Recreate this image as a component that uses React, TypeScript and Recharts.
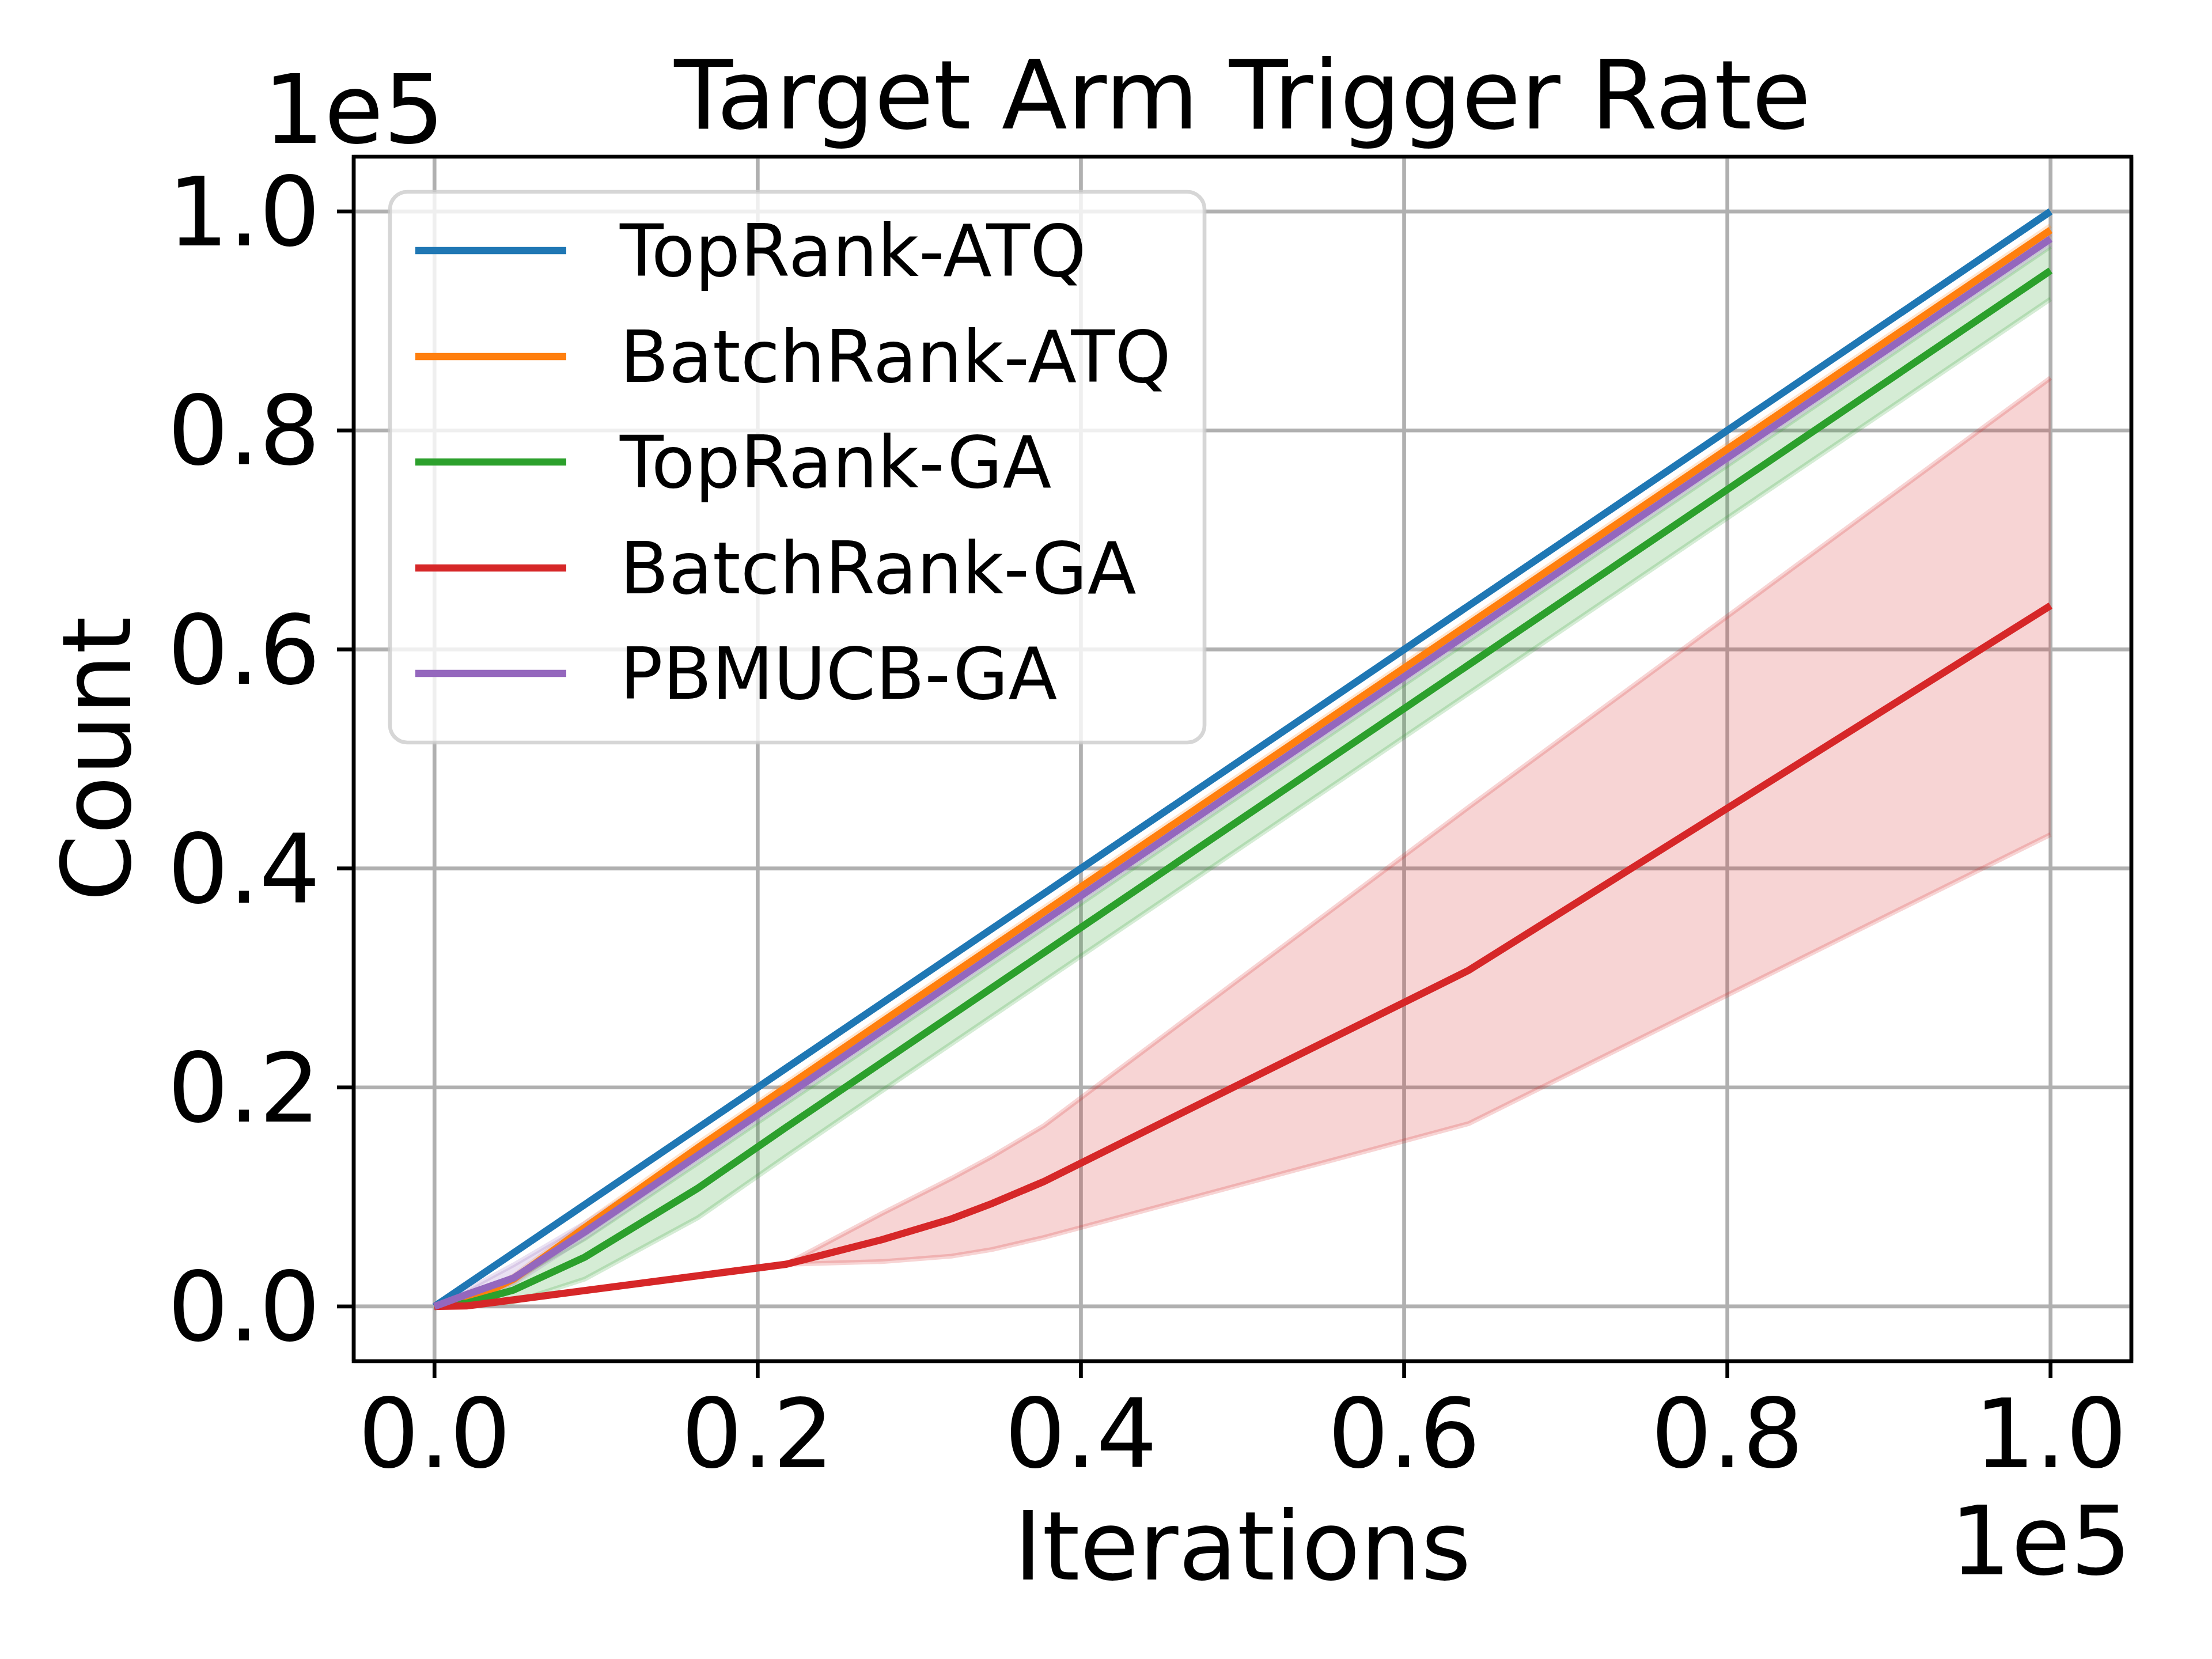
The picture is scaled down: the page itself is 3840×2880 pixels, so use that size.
import React from 'react';
import {
  ComposedChart,
  Line,
  Area,
  XAxis,
  YAxis,
  CartesianGrid,
  ReferenceArea,
  Customized,
} from 'recharts';

// x in units of 1e5 iterations
const iterations = [0, 0.02, 0.049, 0.093, 0.163, 0.2175, 0.277, 0.32, 0.345, 0.377, 0.64, 1.0];

// y in units of 1e5 counts
const topRankATQ = [0, 0.02, 0.049, 0.093, 0.163, 0.2175, 0.277, 0.32, 0.345, 0.377, 0.64, 1.0];

const batchRankATQ = [0, 0.004, 0.025, 0.072, 0.145, 0.2, 0.26, 0.303, 0.328, 0.36, 0.623, 0.983];
const batchRankATQLow = [0, 0.003, 0.022, 0.068, 0.141, 0.196, 0.256, 0.299, 0.324, 0.356, 0.619, 0.979];
const batchRankATQHigh = [0, 0.006, 0.028, 0.076, 0.149, 0.204, 0.264, 0.307, 0.332, 0.364, 0.627, 0.987];

const topRankGA = [0, 0.003, 0.015, 0.045, 0.108, 0.1635, 0.223, 0.266, 0.291, 0.323, 0.586, 0.946];
const topRankGALow = [0, 0.001, 0.004, 0.025, 0.081, 0.137, 0.197, 0.24, 0.265, 0.297, 0.56, 0.92];
const topRankGAHigh = [0, 0.006, 0.025, 0.062, 0.131, 0.1855, 0.245, 0.288, 0.313, 0.345, 0.608, 0.968];

const batchRankGA = [0, 0.0005, 0.006, 0.0145, 0.028, 0.0385, 0.061, 0.08, 0.094, 0.114, 0.307, 0.64];
const batchRankGALow = [0, 0.0005, 0.006, 0.0145, 0.028, 0.0385, 0.041, 0.046, 0.052, 0.063, 0.167, 0.431];
const batchRankGAHigh = [0, 0.0005, 0.006, 0.0145, 0.028, 0.0385, 0.085, 0.117, 0.137, 0.165, 0.456, 0.848];

const pbmucbGA = [0, 0.011, 0.026, 0.068, 0.138, 0.1925, 0.252, 0.295, 0.32, 0.352, 0.615, 0.975];
const pbmucbGALow = [0, 0.008, 0.021, 0.063, 0.133, 0.1875, 0.247, 0.29, 0.315, 0.347, 0.61, 0.97];
const pbmucbGAHigh = [0, 0.015, 0.038, 0.076, 0.143, 0.1975, 0.257, 0.3, 0.325, 0.357, 0.62, 0.98];

const tickValues = [0, 0.2, 0.4, 0.6, 0.8, 1.0];

const seriesNames = ['TopRank-ATQ', 'BatchRank-ATQ', 'TopRank-GA', 'BatchRank-GA', 'PBMUCB-GA'];
const seriesColors = ['#1f77b4', '#ff7f0e', '#2ca02c', '#d62728', '#9467bd'];

const data = iterations.map((x, i) => ({
  x,
  s0: topRankATQ[i],
  s1: batchRankATQ[i],
  s1b: [batchRankATQLow[i], batchRankATQHigh[i]],
  s2: topRankGA[i],
  s2b: [topRankGALow[i], topRankGAHigh[i]],
  s3: batchRankGA[i],
  s3b: [batchRankGALow[i], batchRankGAHigh[i]],
  s4: pbmucbGA[i],
  s4b: [pbmucbGALow[i], pbmucbGAHigh[i]],
}));

const FONT = 'DejaVu Sans, Liberation Sans, sans-serif';
const W = 3840;
const H = 2880;
const PLOT_L = 614;
const PLOT_R = 3700;
const PLOT_T = 272;
const PLOT_B = 2363;
const PLOT_CX = (PLOT_L + PLOT_R) / 2;
const PLOT_CY = (PLOT_T + PLOT_B) / 2;
const BIG = 166.7;
const LEG = 124;
const LW = 12.5;
const THIN = 6.67;

const Overlay = () => {
  const rowY = [435, 619, 802, 986, 1169];
  return (
    <g>
      <text x={PLOT_CX} y={223} textAnchor="middle" fontSize={BIG} fontFamily={FONT} fill="#000">
        Target Arm Trigger Rate
      </text>
      <text x={457} y={248} textAnchor="start" fontSize={BIG} fontFamily={FONT} fill="#000">
        1e5
      </text>
      <text x={PLOT_R} y={2733} textAnchor="end" fontSize={BIG} fontFamily={FONT} fill="#000">
        1e5
      </text>
      <text x={PLOT_CX} y={2742} textAnchor="middle" fontSize={BIG} fontFamily={FONT} fill="#000">
        Iterations
      </text>
      <text
        x={226}
        y={PLOT_CY}
        textAnchor="middle"
        fontSize={BIG}
        fontFamily={FONT}
        fill="#000"
        transform={`rotate(-90, 226, ${PLOT_CY})`}
      >
        Count
      </text>
      <rect
        x={677}
        y={333}
        width={1414}
        height={956}
        rx={30}
        ry={30}
        fill="#ffffff"
        fillOpacity={0.8}
        stroke="#cccccc"
        strokeOpacity={0.8}
        strokeWidth={THIN}
      />
      {seriesNames.map((name, i) => (
        <g key={name}>
          <line x1={721} x2={983} y1={rowY[i]} y2={rowY[i]} stroke={seriesColors[i]} strokeWidth={LW} />
          <text x={1076} y={rowY[i] + 44} fontSize={LEG} fontFamily={FONT} fill="#000">
            {name}
          </text>
        </g>
      ))}
    </g>
  );
};

const tickStyle = { fontSize: BIG, fill: '#000', fontFamily: FONT };
const fmt = (v: number) => v.toFixed(1);

export default function App() {
  return (
    <div style={{ position: 'absolute', left: 0, top: 0, width: W, height: H, background: '#fff' }}>
      <ComposedChart
        width={W}
        height={H}
        data={data}
        margin={{ top: PLOT_T, right: W - PLOT_R, left: PLOT_L - 400, bottom: H - PLOT_B - 300 }}
      >
        <CartesianGrid stroke="#b0b0b0" strokeWidth={THIN} fill="none" />
        <XAxis
          dataKey="x"
          type="number"
          domain={[-0.05, 1.05]}
          ticks={tickValues}
          allowDataOverflow
          tickFormatter={fmt}
          height={300}
          axisLine={false}
          tickSize={29}
          tickMargin={37}
          tickLine={{ stroke: '#000', strokeWidth: THIN }}
          tick={tickStyle}
          interval={0}
        />
        <YAxis
          type="number"
          domain={[-0.05, 1.05]}
          ticks={tickValues}
          allowDataOverflow
          tickFormatter={fmt}
          width={400}
          axisLine={false}
          tickSize={29}
          tickMargin={29}
          tickLine={{ stroke: '#000', strokeWidth: THIN }}
          tick={tickStyle}
          interval={0}
        />
        <Area type="linear" dataKey="s1b" stroke={seriesColors[1]} strokeOpacity={0.2} strokeWidth={8.3} fill={seriesColors[1]} fillOpacity={0.2} dot={false} activeDot={false} legendType="none" isAnimationActive={false} />
        <Area type="linear" dataKey="s2b" stroke={seriesColors[2]} strokeOpacity={0.2} strokeWidth={8.3} fill={seriesColors[2]} fillOpacity={0.2} dot={false} activeDot={false} legendType="none" isAnimationActive={false} />
        <Area type="linear" dataKey="s3b" stroke={seriesColors[3]} strokeOpacity={0.2} strokeWidth={8.3} fill={seriesColors[3]} fillOpacity={0.2} dot={false} activeDot={false} legendType="none" isAnimationActive={false} />
        <Area type="linear" dataKey="s4b" stroke={seriesColors[4]} strokeOpacity={0.2} strokeWidth={8.3} fill={seriesColors[4]} fillOpacity={0.2} dot={false} activeDot={false} legendType="none" isAnimationActive={false} />
        <Line type="linear" dataKey="s0" name={seriesNames[0]} stroke={seriesColors[0]} strokeWidth={LW} dot={false} activeDot={false} isAnimationActive={false} />
        <Line type="linear" dataKey="s1" name={seriesNames[1]} stroke={seriesColors[1]} strokeWidth={LW} dot={false} activeDot={false} isAnimationActive={false} />
        <Line type="linear" dataKey="s2" name={seriesNames[2]} stroke={seriesColors[2]} strokeWidth={LW} dot={false} activeDot={false} isAnimationActive={false} />
        <Line type="linear" dataKey="s3" name={seriesNames[3]} stroke={seriesColors[3]} strokeWidth={LW} dot={false} activeDot={false} isAnimationActive={false} />
        <Line type="linear" dataKey="s4" name={seriesNames[4]} stroke={seriesColors[4]} strokeWidth={LW} dot={false} activeDot={false} isAnimationActive={false} />
        <ReferenceArea x1={-0.05} x2={1.05} y1={-0.05} y2={1.05} fill="none" stroke="#000" strokeWidth={THIN} ifOverflow="visible" />
        <Customized component={Overlay} />
      </ComposedChart>
    </div>
  );
}
